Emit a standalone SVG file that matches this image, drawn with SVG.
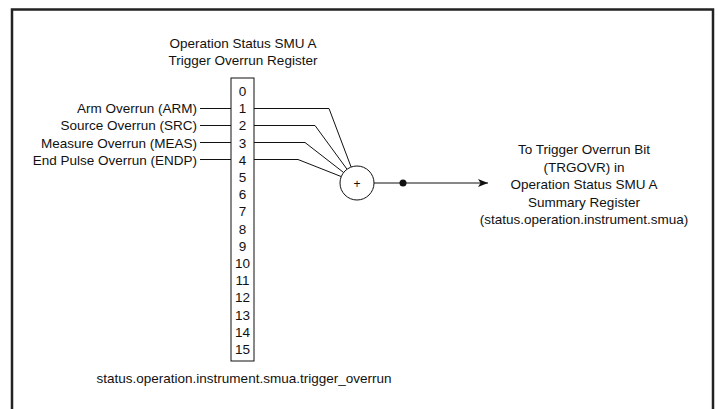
<svg xmlns="http://www.w3.org/2000/svg" width="718" height="409" viewBox="0 0 718 409">
<defs>
<style>
text{font-family:"Liberation Sans",Arial,sans-serif;font-size:13.5px;fill:#111}
.c{text-anchor:middle}
.r{text-anchor:end}
.ln{stroke:#111;stroke-width:1;fill:none}
</style>
<marker id="ah" viewBox="0 0 10 8" refX="10" refY="4" markerWidth="10" markerHeight="8" markerUnits="userSpaceOnUse" orient="auto">
<path d="M0,0 L10,4 L0,8 L2.5,4 Z" fill="#111"/>
</marker>
</defs>
<rect width="718" height="409" fill="#fff"/>
<path d="M12,409 V9.5 H713 V409" fill="none" stroke="#222" stroke-width="2.5"/>
<g id="title">
<text class="c" x="243" y="48">Operation Status SMU A</text>
<text class="c" x="243" y="65">Trigger Overrun Register</text>
</g>
<g id="register">
<rect x="231" y="78" width="23" height="283" fill="#fff" stroke="#111" stroke-width="1"/>
<text class="c" x="242.5" y="96">0</text>
<text class="c" x="242.5" y="113.2">1</text>
<text class="c" x="242.5" y="130.4">2</text>
<text class="c" x="242.5" y="147.6">3</text>
<text class="c" x="242.5" y="164.8">4</text>
<text class="c" x="242.5" y="182">5</text>
<text class="c" x="242.5" y="199.2">6</text>
<text class="c" x="242.5" y="216.4">7</text>
<text class="c" x="242.5" y="233.6">8</text>
<text class="c" x="242.5" y="250.8">9</text>
<text class="c" x="242.5" y="268">10</text>
<text class="c" x="242.5" y="285.2">11</text>
<text class="c" x="242.5" y="302.4">12</text>
<text class="c" x="242.5" y="319.6">13</text>
<text class="c" x="242.5" y="336.8">14</text>
<text class="c" x="242.5" y="354">15</text>
</g>
<g id="inputs">
<text class="r" x="197" y="113.2">Arm Overrun (ARM)</text>
<text class="r" x="197" y="130.4">Source Overrun (SRC)</text>
<text class="r" x="197" y="147.6">Measure Overrun (MEAS)</text>
<text class="r" x="197" y="164.8">End Pulse Overrun (ENDP)</text>
</g>
<g id="or-gate">
<circle cx="357" cy="183" r="17" fill="#fff" stroke="#111" stroke-width="1"/>
<text class="c" x="357" y="187.5" style="font-size:12px">+</text>
</g>
<g id="output-label">
<text class="c" x="584" y="154">To Trigger Overrun Bit</text>
<text class="c" x="584" y="171.5">(TRGOVR) in</text>
<text class="c" x="584" y="189">Operation Status SMU A</text>
<text class="c" x="584" y="206.5">Summary Register</text>
<text class="c" x="584" y="224">(status.operation.instrument.smua)</text>
</g>
<g id="register-name">
<text class="c" x="244" y="383">status.operation.instrument.smua.trigger_overrun</text>
</g>
<g id="connectors">
<line class="ln" x1="200" y1="108.5" x2="231" y2="108.5"/>
<line class="ln" x1="200" y1="125.5" x2="231" y2="125.5"/>
<line class="ln" x1="200" y1="142.5" x2="231" y2="142.5"/>
<line class="ln" x1="200" y1="159.5" x2="231" y2="159.5"/>
<polyline class="ln" points="254,108.5 329,108.5 351.1,167"/>
<polyline class="ln" points="254,125.5 315,125.5 347,169.2"/>
<polyline class="ln" points="254,142.5 305,142.5 343.6,172.5"/>
<polyline class="ln" points="254,159.5 298,159.5 341.3,176.6"/>
<line class="ln" x1="374" y1="183" x2="488" y2="183" marker-end="url(#ah)"/>
<circle cx="403" cy="183" r="3.5" fill="#111"/>
</g>
</svg>
